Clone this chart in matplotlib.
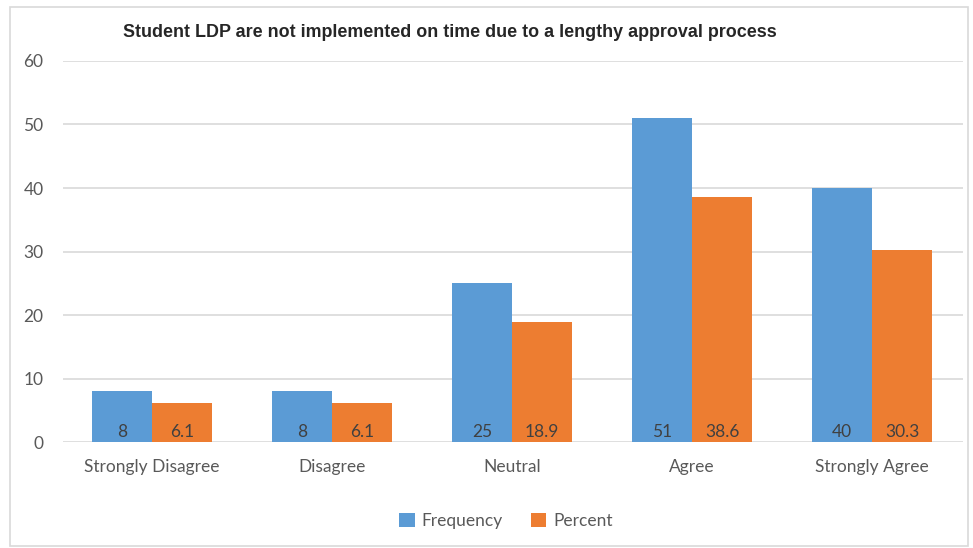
import matplotlib
matplotlib.use("Agg")
import matplotlib.pyplot as plt
from matplotlib.patches import Rectangle
import numpy as np

categories = ["Strongly Disagree", "Disagree", "Neutral", "Agree", "Strongly Agree"]
frequency = [8, 8, 25, 51, 40]
percent = [6.1, 6.1, 18.9, 38.6, 30.3]
y_ticks = [0, 10, 20, 30, 40, 50, 60]
title = "Student LDP are not implemented on time due to a lengthy approval process"

blue = "#5B9BD5"
orange = "#ED7D31"
text_gray = "#595959"

fig = plt.figure(figsize=(9.73, 5.48), dpi=100)
ax = fig.add_axes([0.0648, 0.1934, 0.9249, 0.6953])

x = np.arange(len(categories))
w = 0.333
b1 = ax.bar(x - w / 2, frequency, w, color=blue, label="Frequency", zorder=3)
b2 = ax.bar(x + w / 2, percent, w, color=orange, label="Percent", zorder=3)

for rects, vals in ((b1, frequency), (b2, percent)):
    for r, v in zip(rects, vals):
        ax.text(r.get_x() + r.get_width() / 2, 1.6, f"{v:g}",
                ha="center", va="center", fontsize=12.5, color="#404040",
                family="Lato", zorder=4)

ax.set_xlim(-0.495, 4.505)
ax.set_ylim(0, 60)
ax.set_yticks(y_ticks)
ax.set_xticks(x)
ax.set_xticklabels(categories)
ax.tick_params(axis="both", length=0, colors=text_gray, labelsize=12.5)
ax.tick_params(axis="x", pad=12)
ax.tick_params(axis="y", pad=14)
for lab in ax.get_xticklabels() + ax.get_yticklabels():
    lab.set_family("Lato")
ax.grid(axis="y", color="#D9D9D9", linewidth=1.2, zorder=0)
for s in ax.spines.values():
    s.set_visible(False)

fig.text(0.4625, 0.94, title, ha="center", va="center", fontsize=12.9,
         fontweight="bold", family=["Liberation Sans", "DejaVu Sans"],
         color="#262626")

leg = fig.legend(loc="center", bbox_to_anchor=(0.52, 0.049), ncol=2, frameon=False,
                 prop={"family": "Lato", "size": 12.5}, handlelength=0.9,
                 handleheight=0.9, handletextpad=0.4, columnspacing=1.6)
for t in leg.get_texts():
    t.set_color(text_gray)

fig.patches.append(Rectangle((10 / 973, 1 - 546 / 548), 958 / 973, 539 / 548,
                             transform=fig.transFigure, fill=False,
                             edgecolor="#D9D9D9", linewidth=1.2))

fig.savefig("out.png", dpi=100)
